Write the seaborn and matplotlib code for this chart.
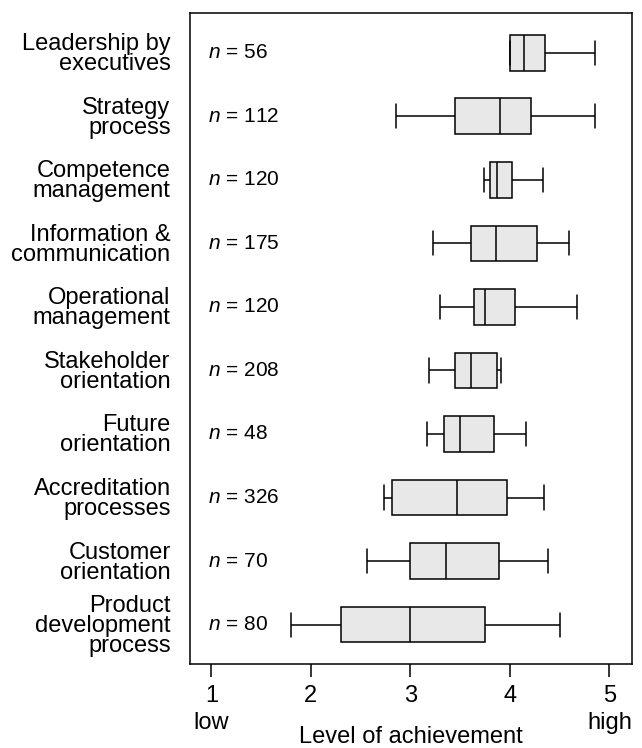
import pandas as pd
import numpy as np
import matplotlib
matplotlib.use("Agg")
import matplotlib.pyplot as plt
import seaborn as sns

# categories (top to bottom) and five-number summaries
categories = [
    "Leadership by\nexecutives",
    "Strategy\nprocess",
    "Competence\nmanagement",
    "Information &\ncommunication",
    "Operational\nmanagement",
    "Stakeholder\norientation",
    "Future\norientation",
    "Accreditation\nprocesses",
    "Customer\norientation",
    "Product\ndevelopment\nprocess",
]
n_counts = [56, 112, 120, 175, 120, 208, 48, 326, 70, 80]
whisk_low = [4.00, 2.86, 3.74, 3.23, 3.30, 3.19, 3.17, 2.73, 2.56, 1.80]
q1 = [4.00, 3.45, 3.80, 3.61, 3.64, 3.45, 3.34, 2.82, 3.00, 2.30]
median = [4.14, 3.90, 3.87, 3.86, 3.75, 3.61, 3.50, 3.47, 3.36, 3.00]
q3 = [4.35, 4.21, 4.02, 4.27, 4.05, 3.87, 3.84, 3.97, 3.89, 3.75]
whisk_high = [4.86, 4.86, 4.33, 4.59, 4.67, 3.91, 4.16, 4.34, 4.38, 4.50]
x_ticks = [1, 2, 3, 4, 5]
x_ticklabels = ["1\nlow", "2", "3", "4", "5\nhigh"]

rows = []
for i, cat in enumerate(categories):
    for v in (whisk_low[i], q1[i], median[i], q3[i], whisk_high[i]):
        rows.append({"Bereich": cat, "Wert": v})
df = pd.DataFrame(rows)

sns.set_theme(style="ticks")
plt.rcParams["font.family"] = ["Liberation Sans", "DejaVu Sans"]
plt.rcParams["mathtext.fontset"] = "custom"
plt.rcParams["mathtext.rm"] = "Liberation Sans"
plt.rcParams["mathtext.it"] = "Liberation Sans:italic"
for k in ["text.color", "axes.labelcolor", "xtick.color", "ytick.color", "axes.edgecolor"]:
    plt.rcParams[k] = "black"

fs = 17

fig = plt.figure(figsize=(6.42, 7.48), dpi=100)
ax = fig.add_axes([0.296, 0.1123, 0.6885, 0.8699])

sns.boxplot(data=df, x="Wert", y="Bereich", order=categories, orient="h",
            whis=(0, 100), width=0.56, color="#e8e8e8", linecolor="black",
            linewidth=1.1, capwidths=0.38, showfliers=False, ax=ax)
for p in ax.patches:
    p.set_facecolor("#e8e8e8")
    p.set_edgecolor("black")

for i, n in enumerate(n_counts):
    ax.text(0.04, i, f"$n$ = {n}", transform=ax.get_yaxis_transform(),
            ha="left", va="center", fontsize=15)

ax.set_xlim(0.785, 5.228)
ax.set_ylim(9.62, -0.62)
ax.set_xticks(x_ticks)
ax.set_xticklabels(x_ticklabels, fontsize=fs, linespacing=1.3)
ax.set_yticks(range(len(categories)))
ax.set_yticklabels(categories, fontsize=fs, linespacing=0.88)
ax.tick_params(axis="y", length=0, pad=14)
ax.tick_params(axis="x", length=9, width=1.1, pad=6)
ax.set_ylabel("")
ax.set_xlabel("Level of achievement", fontsize=fs, labelpad=-6)
for s in ax.spines.values():
    s.set_visible(True)
    s.set_linewidth(1.1)

fig.savefig("out.png", dpi=100)
